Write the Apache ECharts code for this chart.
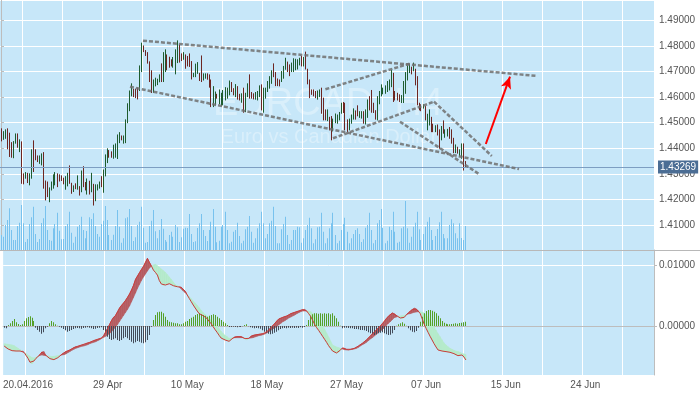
<!DOCTYPE html>
<html><head><meta charset="utf-8">
<script src="https://cdn.jsdelivr.net/npm/echarts@6/dist/echarts.min.js"></script>
<style>html,body{margin:0;padding:0;background:#fff}#c{width:700px;height:394px}</style>
</head><body><div id="c"></div>
<script>
// ---- DATA ----
const highs = [1.4476,1.4465,1.4472,1.4476,1.4459,1.4422,1.4426,1.4456,1.4456,1.4433,
1.4425,1.4300,1.4305,1.4302,1.4300,1.4394,1.4429,1.4394,1.4370,1.4370,
1.4378,1.4383,1.4272,1.4268,1.4245,1.4268,1.4296,1.4305,1.4300,1.4296,
1.4292,1.4283,1.4289,1.4302,1.4331,1.4263,1.4253,1.4261,1.4292,1.4250,
1.4311,1.4328,1.4266,1.4280,1.4271,1.4302,1.4259,1.4257,1.4257,1.4268,
1.4289,1.4315,1.4374,1.4398,1.4391,1.4386,1.4412,1.4417,1.4452,1.4461,
1.4448,1.4448,1.4511,1.4574,1.4624,1.4652,1.4631,1.4631,1.4635,1.4722,
1.4811,1.4800,1.4782,1.4774,1.4738,1.4703,1.4667,1.4674,1.4670,1.4687,
1.4730,1.4774,1.4785,1.4765,1.4756,1.4746,1.4755,1.4785,1.4820,1.4804,
1.4769,1.4774,1.4765,1.4759,1.4769,1.4739,1.4693,1.4729,1.4735,1.4693,
1.4761,1.4691,1.4691,1.4691,1.4687,1.4667,1.4641,1.4620,1.4611,1.4628,
1.4615,1.4626,1.4637,1.4635,1.4663,1.4657,1.4633,1.4649,1.4641,1.4611,
1.4613,1.4635,1.4615,1.4652,1.4687,1.4618,1.4613,1.4618,1.4622,1.4644,
1.4648,1.4635,1.4635,1.4661,1.4680,1.4703,1.4730,1.4696,1.4671,1.4667,
1.4700,1.4720,1.4752,1.4737,1.4726,1.4733,1.4750,1.4748,1.4746,1.4752,
1.4759,1.4755,1.4776,1.4709,1.4667,1.4628,1.4628,1.4622,1.4624,1.4628,
1.4635,1.4596,1.4550,1.4550,1.4521,1.4524,1.4514,1.4534,1.4530,1.4540,
1.4576,1.4579,1.4576,1.4511,1.4514,1.4530,1.4554,1.4546,1.4566,1.4543,
1.4543,1.4543,1.4550,1.4589,1.4602,1.4626,1.4576,1.4547,1.4602,1.4622,
1.4648,1.4635,1.4644,1.4661,1.4667,1.4704,1.4693,1.4622,1.4615,1.4609,
1.4606,1.4661,1.4696,1.4722,1.4729,1.4717,1.4733,1.4709,1.4680,1.4576,
1.4570,1.4570,1.4563,1.4533,1.4550,1.4521,1.4494,1.4488,1.4491,1.4472,
1.4485,1.4507,1.4472,1.4474,1.4481,1.4472,1.4439,1.4413,1.4404,1.4394,
1.4417,1.4417,1.4348];
const lows = [1.4429,1.4435,1.4439,1.4398,1.4368,1.4365,1.4363,1.4420,1.4404,1.4387,
1.4263,1.4261,1.4283,1.4266,1.4257,1.4283,1.4309,1.4355,1.4348,1.4341,
1.4335,1.4244,1.4198,1.4211,1.4191,1.4237,1.4244,1.4257,1.4250,1.4272,
1.4274,1.4261,1.4240,1.4253,1.4263,1.4224,1.4231,1.4242,1.4240,1.4217,
1.4230,1.4250,1.4237,1.4221,1.4221,1.4230,1.4178,1.4195,1.4237,1.4244,
1.4250,1.4228,1.4292,1.4344,1.4365,1.4365,1.4361,1.4365,1.4360,1.4422,
1.4433,1.4420,1.4422,1.4500,1.4547,1.4605,1.4602,1.4598,1.4593,1.4626,
1.4700,1.4778,1.4763,1.4733,1.4661,1.4618,1.4619,1.4644,1.4649,1.4660,
1.4661,1.4661,1.4700,1.4707,1.4717,1.4722,1.4717,1.4691,1.4735,1.4737,
1.4743,1.4748,1.4713,1.4722,1.4720,1.4671,1.4680,1.4680,1.4693,1.4665,
1.4661,1.4667,1.4674,1.4670,1.4639,1.4563,1.4563,1.4570,1.4596,1.4574,
1.4566,1.4570,1.4589,1.4596,1.4609,1.4622,1.4609,1.4602,1.4592,1.4589,
1.4580,1.4541,1.4543,1.4602,1.4596,1.4596,1.4593,1.4592,1.4589,1.4602,
1.4550,1.4541,1.4596,1.4622,1.4635,1.4654,1.4680,1.4645,1.4645,1.4644,
1.4661,1.4674,1.4709,1.4700,1.4684,1.4700,1.4700,1.4707,1.4710,1.4726,
1.4722,1.4722,1.4710,1.4652,1.4598,1.4611,1.4605,1.4598,1.4592,1.4602,
1.4537,1.4511,1.4511,1.4508,1.4472,1.4433,1.4468,1.4500,1.4498,1.4511,
1.4537,1.4540,1.4472,1.4465,1.4472,1.4498,1.4514,1.4514,1.4527,1.4521,
1.4518,1.4498,1.4495,1.4521,1.4550,1.4541,1.4540,1.4514,1.4511,1.4574,
1.4605,1.4613,1.4615,1.4622,1.4628,1.4641,1.4583,1.4589,1.4589,1.4583,
1.4579,1.4579,1.4615,1.4667,1.4696,1.4691,1.4703,1.4648,1.4570,1.4550,
1.4547,1.4557,1.4511,1.4472,1.4491,1.4465,1.4465,1.4465,1.4452,1.4400,
1.4433,1.4459,1.4443,1.4448,1.4439,1.4420,1.4383,1.4383,1.4381,1.4370,
1.4361,1.4315,1.4327];
// 1 = bullish bar, 0 = bearish bar
const ups = [0,1,1,0,0,0,1,1,0,1, 0,0,1,0,1,1,0,0,0,1, 1,0,0,0,1,1,1,1,0,0, 0,0,1,1,0,0,1,0,1,0,
1,0,0,1,0,1,0,1,1,1, 0,1,1,1,0,0,1,1,1,1, 0,1,1,1,1,1,0,0,0,1, 1,0,0,0,0,0,1,1,1,1,
0,1,1,0,0,0,1,1,1,0, 0,1,0,0,0,0,1,1,1,0, 0,1,1,0,0,0,1,1,0,1, 1,1,1,1,1,0,0,1,0,0,
1,0,1,1,0,0,0,1,1,1, 0,1,1,1,1,1,0,0,0,0, 1,1,1,0,0,1,1,1,1,1, 0,1,0,0,0,0,0,0,1,1,
0,0,0,1,0,0,1,1,1,1, 1,0,0,0,1,1,1,0,0,1, 1,0,1,1,0,0,0,0,1,1, 1,1,1,1,1,1,0,0,0,0,
1,1,1,1,1,0,1,0,0,0, 0,1,0,1,1,0,0,1,0,0, 1,0,1,1,0,0,0,1,0,1, 1,0,0];
const volumes = [1500,1330,2500,3000,4170,2000,1000,1000,2400,2730,
4500,2670,800,1100,2600,3270,4330,1600,800,1100,
2700,3170,4400,2000,1000,930,2170,2600,3730,1930,
1070,1100,2400,2600,3830,1730,730,1330,2330,2500,
3330,2000,1170,1900,3270,3100,3670,2400,1600,1330,
2600,2930,4400,3000,1500,1000,1530,2400,4000,2330,
730,1170,3170,3270,4100,2400,900,1270,2500,2830,
4330,2230,730,800,2400,2930,4000,1870,1170,2000,
3100,2130,1000,830,1500,1830,1330,2500,2270,800,
1270,2130,2230,2200,3600,1600,800,870,2200,2670,
3600,2000,1400,900,2000,2830,4100,2330,770,930,
2330,2500,3830,2000,670,830,1830,2000,2730,1400,
670,930,2070,2330,3400,1830,730,1170,2170,2670,
3830,2670,1170,1600,2670,2930,4330,2400,670,670,
2070,2600,3330,1500,600,1000,2000,2000,2330,2270,
730,1170,2000,2500,3230,2170,670,1070,2270,2330,
3730,1830,670,1170,2170,2670,3730,1500,670,930,
2000,2600,3230,1830,670,1170,1600,2000,2170,1600,
800,1070,2230,2500,3730,2000,670,1000,2670,3000,
4100,2230,670,930,2330,2000,3830,1830,730,830,
2170,2330,4900,2170,730,1330,2330,2730,3830,2070,
1000,1600,2330,2830,3270,2000,1000,1400,2100,2770,
3830,1600,1170,1170,2500,3070,2670,1670,1170,2670,
1200,1000,2400];
const macd = [-0.00328,-0.00360,-0.00377,-0.00393,-0.00404,-0.00410,-0.00410,-0.00410,-0.00410,-0.00410,
-0.00431,-0.00481,-0.00530,-0.00595,-0.00622,-0.00573,-0.00530,-0.00502,-0.00470,-0.00426,
-0.00420,-0.00481,-0.00513,-0.00535,-0.00551,-0.00551,-0.00535,-0.00519,-0.00491,-0.00464,
-0.00442,-0.00420,-0.00410,-0.00393,-0.00377,-0.00355,-0.00339,-0.00333,-0.00322,-0.00311,
-0.00306,-0.00289,-0.00278,-0.00268,-0.00257,-0.00240,-0.00229,-0.00218,-0.00207,-0.00197,
-0.00158,-0.00098,-0.00038,0.00027,0.00093,0.00142,0.00175,0.00235,0.00295,0.00339,
0.00377,0.00420,0.00470,0.00524,0.00590,0.00666,0.00764,0.00819,0.00874,0.00928,
0.00977,0.01043,0.01108,0.01043,0.00983,0.00917,0.00879,0.00835,0.00743,0.00688,
0.00666,0.00672,0.00688,0.00693,0.00683,0.00661,0.00644,0.00644,0.00644,0.00633,
0.00601,0.00568,0.00508,0.00453,0.00399,0.00344,0.00295,0.00246,0.00202,0.00180,
0.00169,0.00158,0.00120,0.00076,0.00038,-0.00011,-0.00060,-0.00104,-0.00153,-0.00197,
-0.00213,-0.00229,-0.00240,-0.00251,-0.00224,-0.00197,-0.00175,-0.00175,-0.00175,-0.00175,
-0.00186,-0.00207,-0.00229,-0.00202,-0.00169,-0.00153,-0.00147,-0.00142,-0.00137,-0.00131,
-0.00126,-0.00120,-0.00093,-0.00060,-0.00027,0.00005,0.00044,0.00082,0.00115,0.00126,
0.00142,0.00153,0.00164,0.00180,0.00202,0.00213,0.00224,0.00235,0.00246,0.00257,
0.00268,0.00273,0.00246,0.00202,0.00158,0.00093,0.00027,-0.00027,-0.00071,-0.00120,
-0.00169,-0.00218,-0.00268,-0.00322,-0.00366,-0.00410,-0.00431,-0.00442,-0.00437,-0.00393,
-0.00360,-0.00366,-0.00382,-0.00393,-0.00382,-0.00377,-0.00366,-0.00350,-0.00328,-0.00306,
-0.00284,-0.00257,-0.00229,-0.00197,-0.00164,-0.00131,-0.00098,-0.00066,-0.00033,0.00000,
0.00038,0.00076,0.00120,0.00158,0.00186,0.00213,0.00202,0.00175,0.00147,0.00131,
0.00120,0.00142,0.00180,0.00213,0.00240,0.00268,0.00295,0.00279,0.00251,0.00207,
0.00120,0.00033,-0.00038,-0.00104,-0.00169,-0.00229,-0.00289,-0.00344,-0.00393,-0.00404,
-0.00410,-0.00420,-0.00420,-0.00426,-0.00431,-0.00437,-0.00453,-0.00475,-0.00486,-0.00481,
-0.00475,-0.00508,-0.00557];
const signal = [-0.00289,-0.00295,-0.00300,-0.00306,-0.00311,-0.00322,-0.00344,-0.00366,-0.00388,-0.00410,
-0.00431,-0.00453,-0.00475,-0.00497,-0.00519,-0.00524,-0.00513,-0.00497,-0.00481,-0.00475,
-0.00481,-0.00486,-0.00491,-0.00497,-0.00502,-0.00497,-0.00491,-0.00486,-0.00481,-0.00475,
-0.00470,-0.00459,-0.00437,-0.00420,-0.00399,-0.00382,-0.00366,-0.00355,-0.00344,-0.00333,
-0.00328,-0.00317,-0.00306,-0.00289,-0.00278,-0.00268,-0.00257,-0.00240,-0.00224,-0.00202,
-0.00186,-0.00169,-0.00147,-0.00120,-0.00093,-0.00055,-0.00016,0.00027,0.00076,0.00126,
0.00175,0.00224,0.00273,0.00328,0.00399,0.00470,0.00541,0.00617,0.00683,0.00748,
0.00803,0.00852,0.00901,0.00951,0.00978,0.01000,0.01011,0.00989,0.00962,0.00934,
0.00907,0.00880,0.00841,0.00803,0.00764,0.00721,0.00678,0.00661,0.00644,0.00606,
0.00573,0.00546,0.00514,0.00481,0.00448,0.00410,0.00377,0.00339,0.00301,0.00257,
0.00219,0.00186,0.00153,0.00126,0.00093,0.00060,0.00027,-0.00005,-0.00044,-0.00087,
-0.00126,-0.00153,-0.00175,-0.00202,-0.00197,-0.00191,-0.00191,-0.00191,-0.00191,-0.00191,
-0.00191,-0.00197,-0.00202,-0.00202,-0.00197,-0.00191,-0.00180,-0.00169,-0.00158,-0.00153,
-0.00142,-0.00131,-0.00115,-0.00093,-0.00071,-0.00049,-0.00027,-0.00005,0.00022,0.00044,
0.00071,0.00087,0.00109,0.00131,0.00147,0.00164,0.00180,0.00202,0.00219,0.00235,
0.00246,0.00246,0.00246,0.00246,0.00235,0.00207,0.00186,0.00147,0.00104,0.00066,
0.00016,-0.00049,-0.00115,-0.00180,-0.00246,-0.00311,-0.00328,-0.00344,-0.00355,-0.00366,
-0.00377,-0.00388,-0.00393,-0.00393,-0.00388,-0.00382,-0.00377,-0.00366,-0.00350,-0.00328,
-0.00306,-0.00289,-0.00268,-0.00240,-0.00213,-0.00191,-0.00164,-0.00137,-0.00109,-0.00087,
-0.00060,-0.00027,0.00011,0.00044,0.00071,0.00104,0.00137,0.00147,0.00158,0.00164,
0.00169,0.00175,0.00186,0.00197,0.00202,0.00213,0.00224,0.00229,0.00235,0.00235,
0.00224,0.00213,0.00180,0.00142,0.00093,0.00044,-0.00016,-0.00071,-0.00126,-0.00175,
-0.00229,-0.00278,-0.00311,-0.00339,-0.00366,-0.00382,-0.00399,-0.00410,-0.00420,-0.00431,
-0.00448,-0.00459,-0.00464];
const histogram = [-0.00027,-0.00038,0.00016,0.00044,0.00082,0.00115,0.00060,0.00033,0.00016,0.00027,
0.00082,0.00126,0.00147,0.00158,0.00137,0.00082,-0.00027,-0.00066,-0.00093,-0.00126,
-0.00104,-0.00038,-0.00011,0.00044,0.00082,0.00060,0.00027,0.00005,-0.00011,-0.00027,
-0.00049,-0.00071,-0.00093,-0.00082,-0.00066,-0.00049,-0.00038,-0.00033,-0.00038,-0.00044,
-0.00033,-0.00027,-0.00022,-0.00027,-0.00038,-0.00049,-0.00044,-0.00033,-0.00027,-0.00022,
-0.00066,-0.00120,-0.00175,-0.00213,-0.00229,-0.00219,-0.00202,-0.00229,-0.00246,-0.00229,
-0.00202,-0.00180,-0.00202,-0.00229,-0.00257,-0.00284,-0.00268,-0.00246,-0.00257,-0.00273,
-0.00284,-0.00268,-0.00229,-0.00147,-0.00011,0.00098,0.00180,0.00224,0.00235,0.00235,
0.00207,0.00153,0.00098,0.00071,0.00060,0.00055,0.00044,0.00044,0.00027,0.00027,
0.00044,0.00071,0.00082,0.00115,0.00137,0.00153,0.00180,0.00197,0.00207,0.00191,
0.00180,0.00169,0.00153,0.00169,0.00180,0.00191,0.00180,0.00153,0.00126,0.00098,
0.00071,0.00044,0.00016,-0.00016,-0.00016,-0.00011,-0.00016,-0.00022,-0.00011,-0.00016,
-0.00005,0.00016,0.00027,-0.00005,-0.00022,-0.00027,-0.00038,-0.00033,-0.00038,-0.00044,
-0.00071,-0.00093,-0.00109,-0.00126,-0.00137,-0.00126,-0.00109,-0.00093,-0.00071,-0.00049,
-0.00038,-0.00033,-0.00038,-0.00027,-0.00033,-0.00027,-0.00033,-0.00027,-0.00033,-0.00022,
-0.00027,-0.00016,0.00016,0.00098,0.00169,0.00191,0.00207,0.00207,0.00202,0.00207,
0.00202,0.00207,0.00202,0.00207,0.00191,0.00207,0.00169,0.00126,0.00071,0.00005,
-0.00038,-0.00027,-0.00027,-0.00033,-0.00038,-0.00038,-0.00049,-0.00049,-0.00055,-0.00066,
-0.00066,-0.00071,-0.00082,-0.00104,-0.00120,-0.00137,-0.00147,-0.00137,-0.00120,-0.00109,
-0.00104,-0.00120,-0.00137,-0.00147,-0.00142,-0.00120,-0.00066,0.00005,0.00027,0.00044,
0.00060,0.00038,0.00005,-0.00038,-0.00071,-0.00093,-0.00104,-0.00082,-0.00027,0.00071,
0.00153,0.00207,0.00246,0.00262,0.00262,0.00251,0.00235,0.00207,0.00169,0.00126,
0.00082,0.00055,0.00038,0.00027,0.00027,0.00033,0.00038,0.00044,0.00038,0.00049,
0.00055,0.00060,0.00071];
const slotCount = 327;                 // bar slots visible on the time axis
const tickLabels = ['20.04.2016','29 Apr','10 May','18 May','27 May','07 Jun','15 Jun','24 Jun'];
const tickLabelSlots = [12,52,92,132,172,212,252,292];
const gridLineStart = 11, gridLineStep = 20;
const lastPrice = 1.43269;
const trendLines = [
  [[71.0,1.48207],[268.2,1.46827]],
  [[64.5,1.46408],[259.0,1.43190]],
  [[162.2,1.46307],[204.9,1.47323]],
  [[166.0,1.44390],[216.5,1.45822]],
  [[216.5,1.45822],[245.4,1.43698]],
  [[199.5,1.45040],[239.2,1.42982]]
];
const arrowLine = [[242.4,1.44167],[254.5,1.46800]];
const priceRange = [1.40022, 1.49798];
const macdRange = [-0.008033, 0.012459];
const volumeMax = 5500;
const titleText = 'EURCAD, H4';
const subtitleText = 'Euro vs Canadian Dollar';

// ---- CHART ----
const BG = '#c7e7f9', UP = '#1e5c2f', DOWN = '#6d2622';
const FONT = '"Liberation Sans", Arial, sans-serif';
const slots = Array.from({length: slotCount}, (_, i) => String(i));
const isGridSlot = i => i >= gridLineStart && (i - gridLineStart) % gridLineStep === 0;

const chart = echarts.init(document.getElementById('c'), null, {renderer: 'canvas'});

const ohlcData = highs.map((h, i) => [i, lows[i], h, ups[i]]);
const volData = volumes.map((v, i) => [i, v]);
const histData = histogram.map((v, i) => [i, v]);
const fillData = macd.slice(0, -1).map((m, i) => [i, m, signal[i]]);

function poly(points, fill) {
  return {type: 'polygon', shape: {points}, style: {fill, stroke: fill, lineWidth: 0.6}};
}
const RED_FILL = '#b65c62', GREEN_FILL = '#b5ebcb';

const trendSeries = trendLines.map((pts, k) => {
  const s = {
    type: 'line', xAxisIndex: 3, yAxisIndex: 0, data: pts, symbol: 'none', silent: true, z: 5,
    lineStyle: {color: 'rgba(112,112,112,0.85)', width: 2.5, type: [4, 2]}
  };
  if (k === 0) {
    s.markLine = {
      silent: true, symbol: ['none', 'none'], animation: false, precision: 5,
      lineStyle: {color: '#7d9ec2', width: 1, type: 'solid'},
      label: {show: true, position: 'end', distance: 4, formatter: lastPrice.toFixed(5), color: '#fff',
              backgroundColor: '#4b6d94', padding: [2, 2, 1, 2], fontSize: 10, fontFamily: FONT},
      data: [{yAxis: lastPrice}]
    };
  }
  if (k === 1) {
    s.markLine = {
      silent: true, symbol: ['none', 'arrow'], symbolSize: [8, 12], animation: false, precision: 5,
      lineStyle: {color: '#ff0000', width: 2, type: 'solid'},
      label: {show: false},
      data: [[{coord: arrowLine[0]}, {coord: arrowLine[1]}]]
    };
  }
  return s;
});

const option = {
  animation: false,
  backgroundColor: '#ffffff',
  textStyle: {fontFamily: FONT},
  grid: [
    {left: 0, right: 46, top: 0, height: 250, show: true, backgroundColor: BG, borderWidth: 0},
    {left: 0, right: 46, top: 195, height: 55, show: false},
    {left: 0, right: 46, top: 250, height: 125, show: true, backgroundColor: BG, borderWidth: 0}
  ],
  xAxis: [
    {type: 'category', gridIndex: 0, data: slots, boundaryGap: true,
     axisLine: {show: false}, axisTick: {show: false}, axisLabel: {show: false},
     splitLine: {show: true, interval: (i) => isGridSlot(i), lineStyle: {color: '#ffffff', width: 1}}},
    {type: 'category', gridIndex: 1, data: slots, boundaryGap: true, show: false},
    {type: 'category', gridIndex: 2, data: slots, boundaryGap: true,
     axisLine: {show: true, lineStyle: {color: '#bdbdbd'}}, axisTick: {show: false},
     axisLabel: {show: true, interval: (i) => tickLabelSlots.includes(i), color: '#555', fontSize: 10, margin: 5,
                 formatter: (v) => { const j = tickLabelSlots.indexOf(Number(v)); return j >= 0 ? tickLabels[j] : ''; }},
     splitLine: {show: true, interval: (i) => isGridSlot(i), lineStyle: {color: '#ffffff', width: 1}}},
    {type: 'value', gridIndex: 0, min: -0.5, max: slotCount - 0.5, show: false}
  ],
  yAxis: [
    {type: 'value', gridIndex: 0, position: 'right', min: priceRange[0], max: priceRange[1], splitNumber: 10,
     axisLine: {show: true, lineStyle: {color: '#bdbdbd'}},
     axisTick: {show: true, length: 3, lineStyle: {color: '#bdbdbd'}},
     axisLabel: {color: '#555', fontSize: 10, margin: 5, showMinLabel: false, showMaxLabel: false,
                 formatter: v => v.toFixed(5)},
     splitLine: {show: true, lineStyle: {color: '#ffffff', width: 1}}},
    {type: 'value', gridIndex: 1, min: 0, max: volumeMax, show: false},
    {type: 'value', gridIndex: 2, position: 'right', min: macdRange[0], max: macdRange[1], splitNumber: 2,
     axisLine: {show: true, lineStyle: {color: '#bdbdbd'}},
     axisTick: {show: true, length: 3, lineStyle: {color: '#bdbdbd'}},
     axisLabel: {color: '#555', fontSize: 10, margin: 5, showMinLabel: false, showMaxLabel: false,
                 formatter: v => v.toFixed(5)},
     splitLine: {show: true, lineStyle: {color: '#ffffff', width: 1}}}
  ],
  graphic: [
    {type: 'text', x: 328, y: 105, z: 1, silent: true,
     style: {text: titleText, fontSize: 38, fontFamily: FONT, fill: 'rgba(255,255,255,0.33)', align: 'center', verticalAlign: 'middle'}},
    {type: 'text', x: 329, y: 137, z: 1, silent: true,
     style: {text: subtitleText, fontSize: 20, fontFamily: FONT, fill: 'rgba(255,255,255,0.33)', align: 'center', verticalAlign: 'middle'}},
    {type: 'line', z: 50, silent: true, shape: {x1: 0, y1: 250.5, x2: 700, y2: 250.5}, style: {stroke: '#b8b8b8', lineWidth: 1}}
  ],
  series: [
    {type: 'custom', name: 'volume', xAxisIndex: 1, yAxisIndex: 1, data: volData, z: 2, silent: true,
     encode: {x: 0, y: 1},
     renderItem: (params, api) => {
       const b = api.coord([api.value(0), 0]);
       const t = api.coord([api.value(0), api.value(1)]);
       return {type: 'rect', shape: {x: Math.floor(b[0]), y: t[1], width: 1, height: b[1] - t[1]}, style: {fill: '#78c2ee'}};
     }},
    {type: 'custom', name: 'price', xAxisIndex: 0, yAxisIndex: 0, data: ohlcData, z: 4, silent: true,
     encode: {x: 0, y: [1, 2]},
     renderItem: (params, api) => {
       const i = api.value(0);
       const lo = api.coord([i, api.value(1)]);
       const hi = api.coord([i, api.value(2)]);
       const x = Math.floor(lo[0]) + 0.5;
       return {type: 'line', shape: {x1: x, y1: lo[1] + 0.5, x2: x, y2: hi[1] - 0.5},
               style: {stroke: api.value(3) ? UP : DOWN, lineWidth: 1}};
     }},
    ...trendSeries,
    {type: 'custom', name: 'macdFill', xAxisIndex: 2, yAxisIndex: 2, data: fillData, z: 2, silent: true,
     encode: {x: 0, y: [1, 2]},
     renderItem: (params, api) => {
       const i = api.value(0);
       const m0 = macd[i], s0 = signal[i], m1 = macd[i + 1], s1 = signal[i + 1];
       const a0 = api.coord([i, m0]), b0 = api.coord([i, s0]);
       const a1 = api.coord([i + 1, m1]), b1 = api.coord([i + 1, s1]);
       const d0 = m0 - s0, d1 = m1 - s1;
       if (d0 * d1 >= 0) {
         return poly([a0, a1, b1, b0], (d0 + d1) >= 0 ? RED_FILL : GREEN_FILL);
       }
       const t = d0 / (d0 - d1);
       const c = [a0[0] + t * (a1[0] - a0[0]), a0[1] + t * (a1[1] - a0[1])];
       return {type: 'group', children: [
         poly([a0, c, b0], d0 > 0 ? RED_FILL : GREEN_FILL),
         poly([c, a1, b1], d1 > 0 ? RED_FILL : GREEN_FILL)
       ]};
     }},
    {type: 'custom', name: 'histogram', xAxisIndex: 2, yAxisIndex: 2, data: histData, z: 3, silent: true,
     encode: {x: 0, y: 1},
     renderItem: (params, api) => {
       const v = api.value(1);
       const b = api.coord([api.value(0), 0]);
       const t = api.coord([api.value(0), v]);
       return {type: 'rect', shape: {x: Math.floor(b[0]), y: Math.min(b[1], t[1]), width: 1, height: Math.abs(b[1] - t[1])},
               style: {fill: v >= 0 ? '#55a028' : '#434b59'}};
     }},
    {type: 'line', name: 'MACD', xAxisIndex: 2, yAxisIndex: 2, data: macd, symbol: 'none', z: 4, silent: true,
     lineStyle: {color: '#c93b3b', width: 1}}
  ]
};
chart.setOption(option);
</script>
</body></html>
